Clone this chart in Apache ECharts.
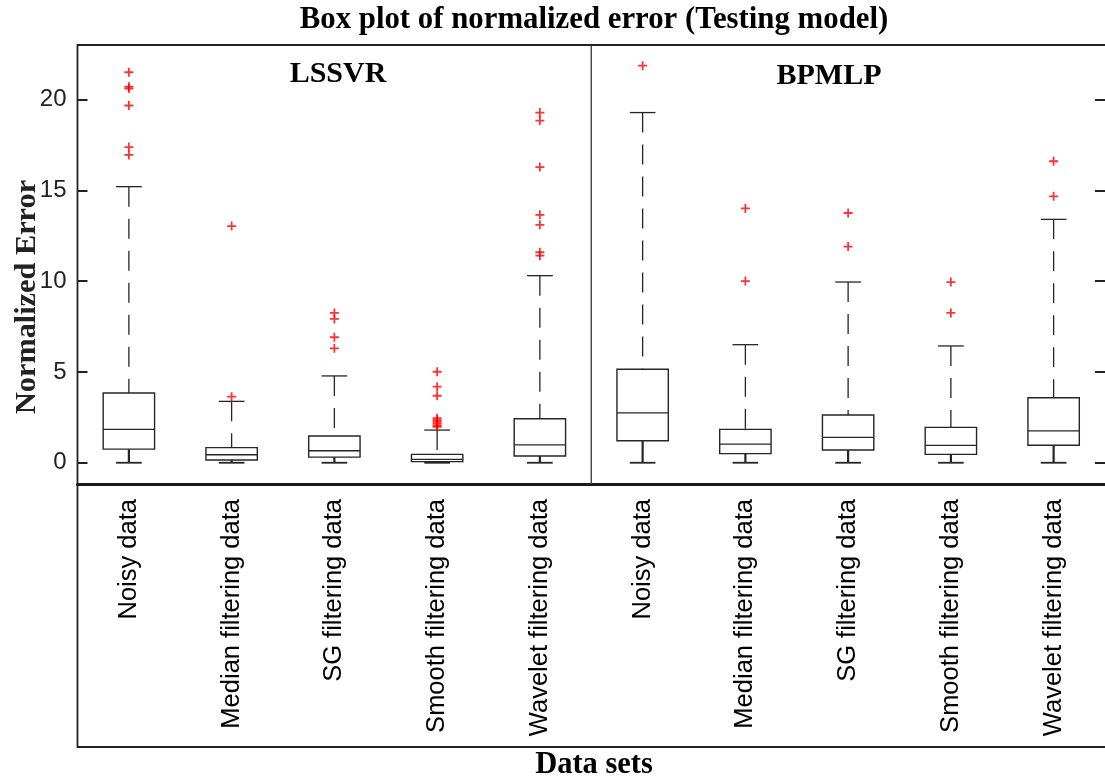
<!DOCTYPE html>
<html>
<head>
<meta charset="utf-8">
<script src="https://cdn.jsdelivr.net/npm/echarts@6/dist/echarts.min.js"></script>
<style>
html,body{margin:0;padding:0;background:#fff;}
#chart{width:1105px;height:783px;}
</style>
</head>
<body>
<div id="chart"></div>
<script>
// ---- data ----
const categories = ['Noisy data','Median filtering data','SG filtering data','Smooth filtering data','Wavelet filtering data',
                    'Noisy data','Median filtering data','SG filtering data','Smooth filtering data','Wavelet filtering data'];
const models = ['LSSVR', 'BPMLP'];
// [lower whisker, Q1, median, Q3, upper whisker]
const boxStats = [
  [0, 0.75, 1.84, 3.84, 15.2],
  [0, 0.15, 0.44, 0.83, 3.38],
  [0, 0.31, 0.66, 1.47, 4.78],
  [0, 0.06, 0.19, 0.46, 1.80],
  [0, 0.37, 0.98, 2.42, 10.3],
  [0, 1.21, 2.75, 5.15, 19.28],
  [0, 0.50, 1.03, 1.84, 6.50],
  [0, 0.70, 1.40, 2.63, 9.95],
  [0, 0.46, 0.96, 1.95, 6.43],
  [0, 0.96, 1.76, 3.58, 13.4]
];
const outliers = [
  [21.5, 20.7, 20.6, 19.67, 17.38, 16.95],
  [13.03, 3.64],
  [8.25, 7.92, 6.91, 6.3],
  [5.01, 4.19, 3.69, 2.45, 2.35, 2.25, 2.15, 2.05, 1.98],
  [19.28, 18.84, 16.28, 13.65, 13.1, 11.59, 11.4],
  [21.86],
  [14.0, 10.0],
  [13.75, 11.9],
  [9.95, 8.25],
  [16.6, 14.67]
];
const yTicks = [0, 5, 10, 15, 20];

// ---- build ----
const boxData = boxStats.map((s, i) => [i].concat(s));
const outlierData = [];
outliers.forEach((arr, i) => arr.forEach(v => outlierData.push([i, v])));

const serif = 'Liberation Serif, Times New Roman, serif';
const sans = 'Liberation Sans, Arial, sans-serif';
const lineColor = '#262626';

const GL = 77.5, GT = 45, GW = 1034.5, GH = 439;

function renderBox(params, api) {
  const i = api.value(0);
  const lo = api.coord([i, api.value(1)]);
  const q1 = api.coord([i, api.value(2)]);
  const md = api.coord([i, api.value(3)]);
  const q3 = api.coord([i, api.value(4)]);
  const hi = api.coord([i, api.value(5)]);
  const band = api.size([1, 0])[0];
  const hw = band * 0.25;
  const cw = band * 0.125;
  const x = lo[0];
  const solid = {stroke: lineColor, lineWidth: 1.3, fill: null};
  const dashed = {stroke: lineColor, lineWidth: 1.3, lineDash: [20, 12], fill: null};
  return {
    type: 'group',
    children: [
      {type: 'line', shape: {x1: x, y1: hi[1], x2: x, y2: q3[1]}, style: dashed},
      {type: 'line', shape: {x1: x, y1: lo[1], x2: x, y2: q1[1]}, style: Object.assign({}, solid, {lineWidth: 2.2})},
      {type: 'line', shape: {x1: x - cw, y1: hi[1], x2: x + cw, y2: hi[1]}, style: solid},
      {type: 'line', shape: {x1: x - cw, y1: lo[1], x2: x + cw, y2: lo[1]}, style: Object.assign({}, solid, {lineWidth: 1.8})},
      {type: 'rect', shape: {x: x - hw, y: q3[1], width: 2 * hw, height: q1[1] - q3[1]}, style: {stroke: lineColor, lineWidth: 1.4, fill: '#fff'}},
      {type: 'line', shape: {x1: x - hw, y1: md[1], x2: x + hw, y2: md[1]}, style: solid}
    ]
  };
}

function renderDivider(params, api) {
  const i = api.value(0);
  const p = api.coord([i, 0]);
  const band = api.size([1, 0])[0];
  const xr = p[0] + band / 2;
  return {
    type: 'line',
    shape: {x1: xr, y1: params.coordSys.y, x2: xr, y2: params.coordSys.y + params.coordSys.height},
    style: {stroke: '#333', lineWidth: 1.3}
  };
}

const plusPath = 'path://M4,0h2v4h4v2h-4v4h-2v-4h-4v-2h4z';

const option = {
  backgroundColor: '#fff',
  animation: false,
  grid: {left: GL, top: GT, width: GW, height: GH, show: false},
  xAxis: {
    type: 'category',
    data: categories,
    boundaryGap: true,
    axisLine: {show: true, onZero: false, lineStyle: {color: '#1a1a1a', width: 3}},
    axisTick: {show: false},
    axisLabel: {rotate: 90, interval: 0, margin: 15, fontFamily: sans, fontSize: 25.5, color: '#000'},
    splitLine: {show: false}
  },
  yAxis: [{
    type: 'value',
    min: -1.17, max: 23,
    axisLine: {show: false},
    axisTick: {show: true, inside: true, length: 10, customValues: yTicks, lineStyle: {color: '#222', width: 2}},
    axisLabel: {customValues: yTicks, margin: 11, fontFamily: sans, fontSize: 24, color: '#222'},
    splitLine: {show: false}
  }, {
    type: 'value',
    position: 'right',
    min: -1.17, max: 23,
    axisLine: {show: false},
    axisTick: {show: true, inside: true, length: 10, customValues: yTicks, lineStyle: {color: '#222', width: 2}},
    axisLabel: {show: false, customValues: yTicks},
    splitLine: {show: false}
  }],
  series: [
    {type: 'custom', name: 'box', renderItem: renderBox, data: boxData, encode: {x: 0, y: [1,2,3,4,5]}, z: 3},
    {type: 'custom', name: 'divider', renderItem: renderDivider, data: [[4]], encode: {x: 0}, z: 2},
    {type: 'scatter', name: 'outliers', data: outlierData, symbol: plusPath, symbolSize: 9,
     itemStyle: {color: '#ff0000'}, z: 4}
  ],
  graphic: [
    {type: 'rect', shape: {x: GL, y: GT, width: GW, height: 702}, style: {stroke: '#222', lineWidth: 1.8, fill: null}, z: 1, silent: true},
    {type: 'text', x: 594, y: 20,
     style: {text: 'Box plot of normalized error (Testing model)', font: 'bold 30.8px ' + serif, fill: '#000', align: 'center', verticalAlign: 'middle'}},
    {type: 'text', x: 27, y: 297, rotation: Math.PI / 2,
     style: {text: 'Normalized Error', font: 'bold 30.3px ' + serif, fill: '#222', align: 'center', verticalAlign: 'middle'}},
    {type: 'text', x: 594, y: 765,
     style: {text: 'Data sets', font: 'bold 30.5px ' + serif, fill: '#000', align: 'center', verticalAlign: 'middle'}},
    {type: 'text', x: 338, y: 74,
     style: {text: models[0], font: 'bold 30px ' + serif, fill: '#000', align: 'center', verticalAlign: 'middle'}},
    {type: 'text', x: 829, y: 76,
     style: {text: models[1], font: 'bold 30px ' + serif, fill: '#000', align: 'center', verticalAlign: 'middle'}}
  ]
};

const chart = echarts.init(document.getElementById('chart'), null, {renderer: 'canvas'});
chart.setOption(option);
</script>
</body>
</html>
